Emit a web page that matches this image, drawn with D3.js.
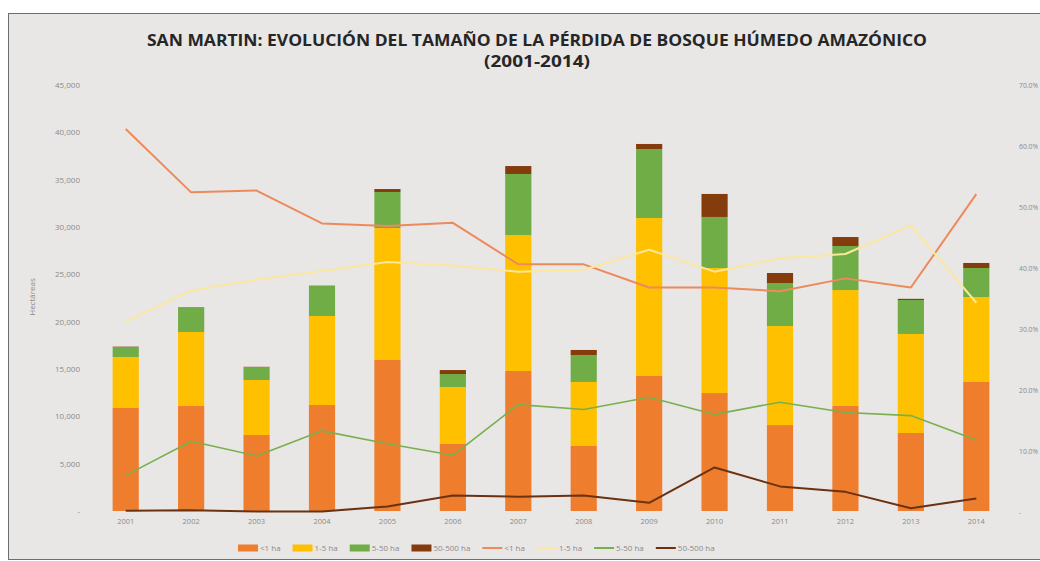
<!DOCTYPE html>
<html>
<head>
<meta charset="utf-8">
<script src="https://cdn.jsdelivr.net/npm/d3@7/dist/d3.min.js"></script>
<style>
  html, body { margin: 0; padding: 0; background: #ffffff; }
  svg { display: block; }
  text { font-family: "Open Sans", "Liberation Sans", sans-serif; }
</style>
</head>
<body>
<svg id="chart" width="1040" height="561"></svg>
<script>
// Deforestation by patch size, San Martín (hectares per year)
const years = ["2001","2002","2003","2004","2005","2006","2007","2008","2009","2010","2011","2012","2013","2014"];
const lt1   = [10880, 11090, 8030, 11200, 15950, 7080, 14790, 6870, 14260, 12460, 9080, 11090, 8240, 13630];
const s1to5 = [5390, 7820, 5810, 9400, 13940, 6020, 14360, 6760, 16690, 13210, 10460, 12250, 10460, 8970];
const s5to50 = [1050, 2530, 1370, 3170, 3810, 1370, 6450, 2850, 7290, 5390, 4540, 4650, 3590, 3070];
const s50to500 = [40, 60, 20, 30, 310, 420, 840, 530, 530, 2430, 1060, 950, 120, 530];

// Share of each size class in the yearly total (%)
const pctLt1    = [62.8, 52.4, 52.7, 47.3, 46.9, 47.4, 40.6, 40.6, 36.8, 36.8, 36.2, 38.3, 36.8, 52.1];
const pct1to5   = [31.2, 36.3, 38.1, 39.5, 41.0, 40.4, 39.4, 39.7, 43.0, 39.4, 41.6, 42.3, 47.0, 34.3];
const pct5to50  = [6.0, 11.6, 9.2, 13.3, 11.2, 9.3, 17.6, 16.8, 18.8, 16.0, 18.0, 16.3, 15.8, 11.8];
const pct50to500 = [0.2, 0.3, 0.1, 0.1, 0.9, 2.7, 2.5, 2.7, 1.5, 7.3, 4.2, 3.3, 0.6, 2.2];

const leftTicks = [0, 5000, 10000, 15000, 20000, 25000, 30000, 35000, 40000, 45000];
const rightTicks = [0, 10, 20, 30, 40, 50, 60, 70];

const classNames = ["<1 ha", "1-5 ha", "5-50 ha", "50-500 ha"];
const barColors  = ["#ef7d2e", "#ffc000", "#70ad47", "#843c0c"];
const lineColors = ["#ec8a5c", "#fbe79f", "#79b04e", "#6b3210"];

const svg = d3.select("#chart");

// chart frame
svg.append("rect").attr("x", 8.5).attr("y", 13.5).attr("width", 1100).attr("height", 546)
  .attr("fill", "#e9e6e6").attr("stroke", "#6e6e6e").attr("stroke-width", 1);

const x = d3.scaleBand().domain(years).range([93, 1009]).paddingInner(0.6).paddingOuter(0.3);
const y = d3.scaleLinear().domain([0, 45000]).range([511, 85]);
const y2 = d3.scaleLinear().domain([0, 70]).range([512, 85]);

// title
const title = svg.append("g").attr("font-weight", 700).attr("fill", "#262626").attr("text-anchor", "middle");
title.append("text").attr("x", 537).attr("y", 46).attr("font-size", 15.5)
  .attr("textLength", 780).attr("lengthAdjust", "spacingAndGlyphs")
  .text("SAN MARTIN: EVOLUCIÓN DEL TAMAÑO DE LA PÉRDIDA DE BOSQUE HÚMEDO AMAZÓNICO");
title.append("text").attr("x", 537).attr("y", 67).attr("font-size", 15.5)
  .attr("textLength", 106).attr("lengthAdjust", "spacingAndGlyphs")
  .text("(2001-2014)");

// stacked bars
const rows = years.map((yr, i) => ({ year: yr, c0: lt1[i], c1: s1to5[i], c2: s5to50[i], c3: s50to500[i] }));
const stack = d3.stack().keys(["c0", "c1", "c2", "c3"])(rows);
svg.append("g").selectAll("g").data(stack).join("g")
  .attr("fill", (d, i) => barColors[i])
  .selectAll("rect").data(d => d).join("rect")
  .attr("x", d => x(d.data.year))
  .attr("width", x.bandwidth())
  .attr("y", d => y(d[1]))
  .attr("height", d => y(d[0]) - y(d[1]));

// share lines on the secondary axis
const shares = [pctLt1, pct1to5, pct5to50, pct50to500];
const line = d3.line().x((d, i) => x(years[i]) + x.bandwidth() / 2).y(d => y2(d));
svg.append("g").selectAll("path").data(shares).join("path")
  .attr("d", d => line(d))
  .attr("fill", "none")
  .attr("stroke", (d, i) => lineColors[i])
  .attr("stroke-width", (d, i) => i === 2 ? 1.6 : 2)
  .attr("stroke-linejoin", "round");

// left axis
const fmt = d3.format(",");
const yAxis = d3.axisLeft(y).tickValues(leftTicks).tickSize(0).tickPadding(0)
  .tickFormat(d => d === 0 ? "-" : fmt(d));
const gy = svg.append("g").attr("transform", "translate(80,0)").call(yAxis);
gy.select(".domain").remove();
gy.selectAll("text").attr("font-size", 8).attr("fill", "#8a8a8a")
  .attr("font-family", "'Open Sans', sans-serif");

// right axis
const y2Axis = d3.axisRight(y2).tickValues(rightTicks).tickSize(0).tickPadding(0)
  .tickFormat(d => d === 0 ? "-" : d3.format(".1f")(d) + "%");
const gy2 = svg.append("g").attr("transform", "translate(1019,0)").call(y2Axis);
gy2.select(".domain").remove();
gy2.selectAll("text").attr("font-size", 6.8).attr("fill", "#8a8a8a")
  .attr("font-family", "'Open Sans', sans-serif");

// x axis
const xAxis = d3.axisBottom(x).tickSize(0).tickPadding(0);
const gx = svg.append("g").attr("transform", "translate(0,519)").call(xAxis);
gx.select(".domain").remove();
gx.selectAll("text").attr("font-size", 7.5).attr("fill", "#8a8a8a")
  .attr("font-family", "'Open Sans', sans-serif");

// y axis title
svg.append("text").attr("transform", "translate(35,297) rotate(-90)")
  .attr("text-anchor", "middle").attr("font-size", 8).attr("fill", "#8a8a8a")
  .text("Hectáreas");

// legend
const legend = svg.append("g").attr("transform", "translate(238,548)");
let lx = 0;
const items = classNames.map((n, i) => ({ name: n, color: barColors[i], kind: "bar" }))
  .concat(classNames.map((n, i) => ({ name: n, color: lineColors[i], kind: "line" })));
items.forEach(it => {
  const g = legend.append("g").attr("transform", `translate(${lx},0)`);
  if (it.kind === "bar") {
    g.append("rect").attr("x", 0).attr("y", -3.5).attr("width", 20).attr("height", 7).attr("fill", it.color);
  } else {
    g.append("line").attr("x1", 0).attr("x2", 20).attr("y1", 0).attr("y2", 0)
      .attr("stroke", it.color).attr("stroke-width", 2);
  }
  const t = g.append("text").attr("x", 22).attr("y", 3).attr("font-size", 8).attr("fill", "#8a8a8a").text(it.name);
  lx += 22 + t.node().getComputedTextLength() + 12;
});
</script>
</body>
</html>
